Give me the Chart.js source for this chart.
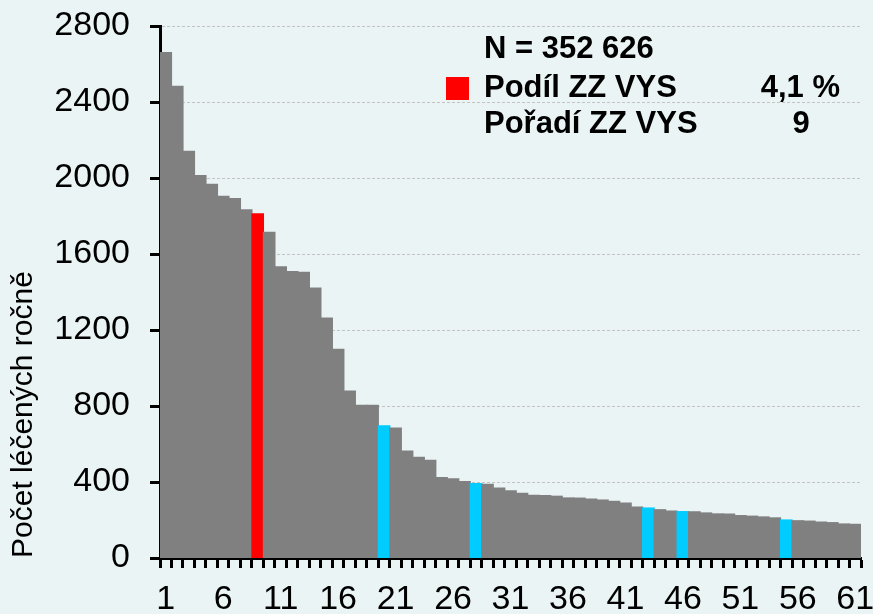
<!DOCTYPE html>
<html>
<head>
<meta charset="utf-8">
<script src="https://cdn.jsdelivr.net/npm/chart.js@4"></script>
<style>
  body { margin: 0; background: #eaf4f5; }
</style>
</head>
<body>
<canvas id="chart" width="873" height="614"></canvas>
<script>
// ================= DATA =================
const categories = Array.from({ length: 61 }, (_, i) => String(i + 1));

const patients = [
  2660, 2483, 2140, 2012, 1967, 1904, 1891, 1832, 1811, 1714,
  1532, 1507, 1504, 1421, 1262, 1098, 879, 804, 804, 695,
  684, 563, 530, 514, 423, 416, 402, 391, 388, 368,
  353, 340, 330, 329, 325, 316, 315, 310, 305, 298,
  289, 268, 263, 254, 247, 244, 243, 237, 232, 231,
  223, 220, 216, 211, 200, 196, 194, 189, 186, 179,
  177
];

const highlightRed = [9];
const highlightBlue = [20, 28, 43, 46, 55];

const yTicks = [0, 400, 800, 1200, 1600, 2000, 2400, 2800];

const noteTotal = "N = 352 626";
const noteShareLabel = "Podíl ZZ VYS";
const noteShareValue = "4,1 %";
const noteRankLabel = "Pořadí ZZ VYS";
const noteRankValue = "9";

// ================= COLORS =================
const FONT = "'Liberation Sans', Arial, sans-serif";

const barColors = categories.map((c, i) => {
  if (highlightRed.includes(i + 1)) return "#ff0000";
  if (highlightBlue.includes(i + 1)) return "#00ccff";
  return "#808080";
});

// ================= PLUGINS =================
const background = {
  id: "background",
  beforeDraw(chart) {
    const ctx = chart.ctx;
    ctx.save();
    ctx.fillStyle = "#eaf4f5";
    ctx.fillRect(0, 0, chart.width, chart.height);
    ctx.restore();
  }
};

const note = {
  id: "note",
  afterDraw(chart) {
    const ctx = chart.ctx;
    ctx.save();
    ctx.fillStyle = "#000";
    ctx.font = `bold 31px ${FONT}`;
    ctx.textBaseline = "alphabetic";
    ctx.textAlign = "left";
    ctx.fillText(noteTotal, 484, 58);
    ctx.fillText(noteShareLabel, 484, 97);
    ctx.fillText(noteRankLabel, 484, 133);
    ctx.textAlign = "right";
    ctx.fillText(noteShareValue, 840, 97);
    ctx.textAlign = "center";
    ctx.fillText(noteRankValue, 801, 133);
    ctx.fillStyle = "#ff0000";
    ctx.fillRect(446, 77, 23, 23);
    ctx.restore();
  }
};

// ================= CHART =================
new Chart(document.getElementById("chart"), {
  type: "bar",
  data: {
    labels: categories,
    datasets: [{
      data: patients,
      backgroundColor: barColors,
      borderWidth: 0,
      inflateAmount: 0.6,
      barPercentage: 1,
      categoryPercentage: 1
    }]
  },
  options: {
    responsive: false,
    animation: false,
    layout: { padding: { top: 26, right: 12, bottom: 0, left: 0 } },
    plugins: {
      legend: { display: false },
      tooltip: { enabled: false }
    },
    scales: {
      x: {
        offset: true,
        grid: {
          offset: true,
          drawOnChartArea: false,
          tickLength: 10,
          tickWidth: 3,
          tickColor: "#000"
        },
        border: { color: "#000", width: 3 },
        ticks: {
          autoSkip: false,
          maxRotation: 0,
          padding: 11,
          color: "#000",
          font: { family: FONT, size: 34 },
          callback: (v, i) => i % 5 === 0 ? categories[i] : ""
        },
        afterFit: s => {
          s.height = 56;
          s.paddingLeft = 0;
          s.paddingRight = 0;
        }
      },
      y: {
        min: 0,
        max: 2800,
        afterBuildTicks: s => { s.ticks = yTicks.map(v => ({ value: v })); },
        grid: {
          color: "#c4c4c4",
          lineWidth: 1,
          tickLength: 10,
          tickWidth: 3,
          tickColor: "#000",
          tickBorderDash: []
        },
        border: { color: "#000", width: 3, dash: [3, 2] },
        ticks: {
          padding: 20,
          color: "#000",
          font: { family: FONT, size: 34 },
          callback: v => String(v)
        },
        title: {
          display: true,
          text: "Počet léčených ročně",
          align: "start",
          color: "#000",
          font: { family: FONT, size: 30 },
          padding: { top: 6, bottom: 0 }
        },
        afterFit: s => {
          s.width = 160;
          s.paddingTop = 0;
          s.paddingBottom = 0;
        }
      }
    }
  },
  plugins: [background, note]
});
</script>
</body>
</html>
